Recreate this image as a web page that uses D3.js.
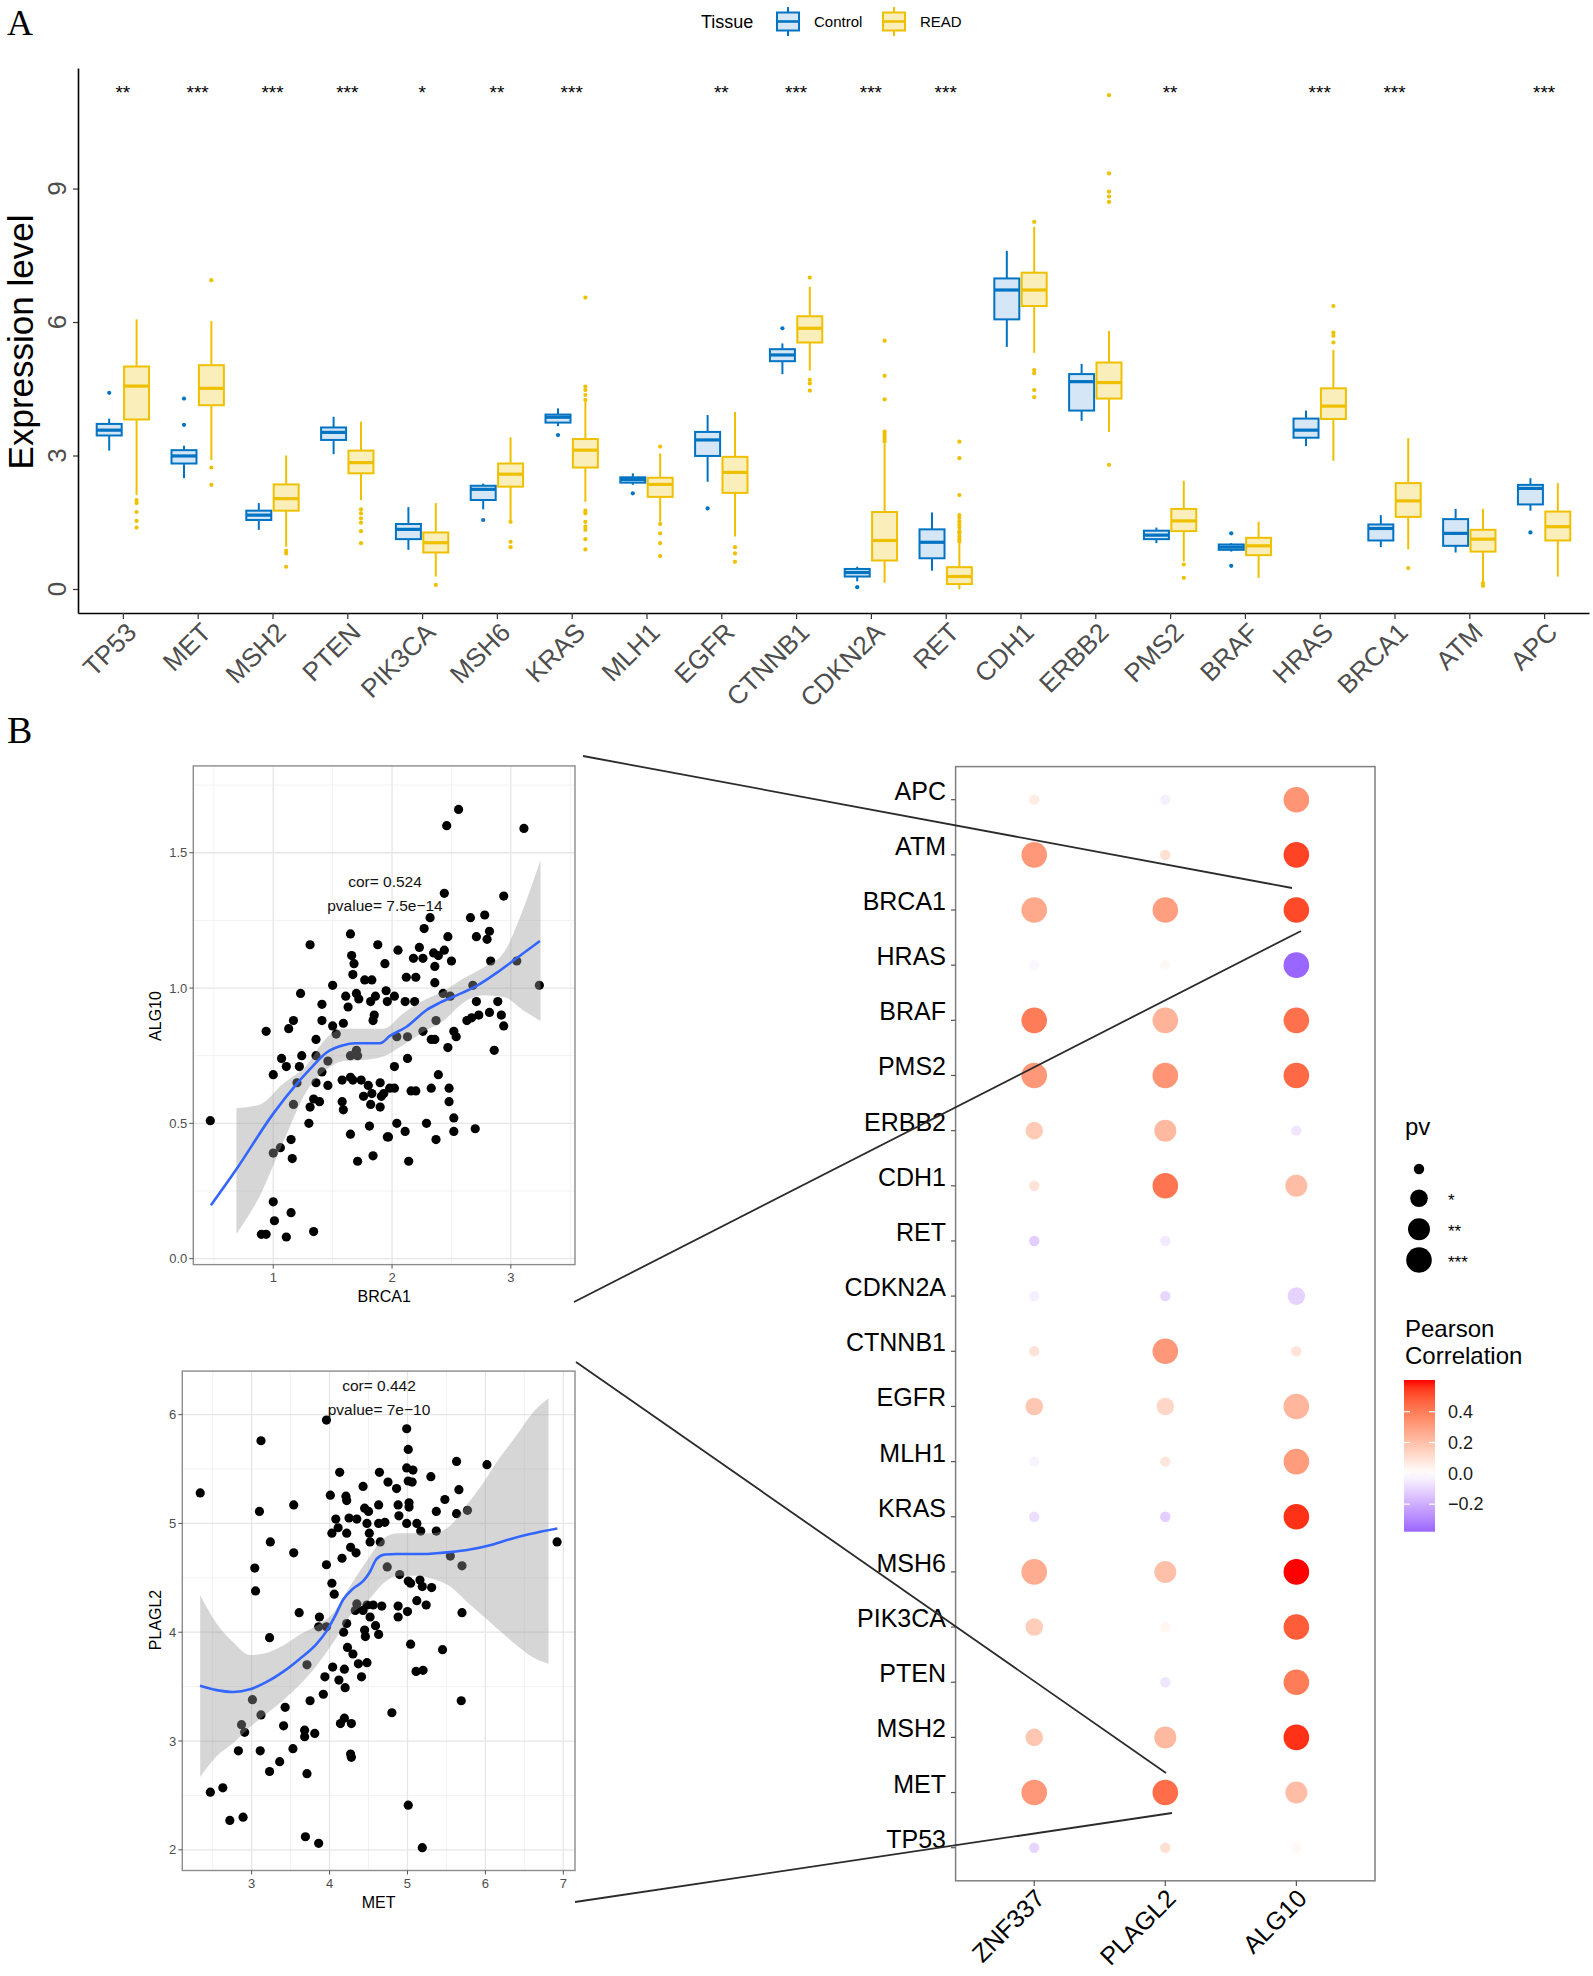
<!DOCTYPE html>
<html><head><meta charset="utf-8">
<script src="https://cdn.jsdelivr.net/npm/d3@7"></script>
<style>body{margin:0;background:#fff} svg{display:block;font-family:"Liberation Sans",Arial,sans-serif}</style>
</head><body>
<svg id="c" width="1593" height="1976"></svg>
<script>
// ---------------- DATA ----------------
const genes = ["TP53","MET","MSH2","PTEN","PIK3CA","MSH6","KRAS","MLH1","EGFR","CTNNB1","CDKN2A","RET","CDH1","ERBB2","PMS2","BRAF","HRAS","BRCA1","ATM","APC"];
const groups = ["Control","READ"];
// [lower whisker, Q1, median, Q3, upper whisker]
const controlStats = [[3.11,3.45,3.57,3.71,3.83],[2.49,2.82,2.99,3.12,3.22],[1.33,1.55,1.66,1.76,1.93],[3.03,3.35,3.52,3.63,3.87],[0.88,1.12,1.34,1.46,1.84],[1.79,2.0,2.24,2.32,2.37],[3.66,3.74,3.86,3.92,4.06],[2.34,2.39,2.46,2.51,2.6],[2.41,2.99,3.35,3.53,3.91],[4.83,5.12,5.26,5.39,5.52],[0.17,0.28,0.37,0.45,0.50],[0.41,0.69,1.05,1.34,1.72],[5.44,6.06,6.72,6.98,7.60],[3.78,4.01,4.66,4.83,5.06],[1.03,1.12,1.21,1.31,1.38],[0.84,0.88,0.94,1.0,1.03],[3.21,3.40,3.57,3.83,4.01],[0.94,1.09,1.36,1.45,1.66],[0.82,0.97,1.25,1.57,1.80],[1.76,1.90,2.26,2.34,2.49]];
const readStats = [[2.11,3.81,4.56,5.0,6.06],[2.9,4.13,4.51,5.03,6.02],[0.95,1.76,2.03,2.35,3.0],[2.0,2.6,2.84,3.11,3.76],[0.28,0.82,1.04,1.27,1.93],[1.55,2.3,2.58,2.82,3.41],[1.96,2.73,3.12,3.37,4.21],[1.51,2.07,2.35,2.5,3.05],[1.18,2.16,2.62,2.97,3.98],[4.91,5.54,5.86,6.13,6.79],[0.14,0.64,1.09,1.73,3.26],[-0.01,0.11,0.28,0.49,1.02],[5.31,6.36,6.72,7.11,8.14],[3.53,4.28,4.64,5.09,5.80],[0.62,1.30,1.53,1.80,2.43],[0.25,0.76,0.97,1.15,1.51],[2.88,3.82,4.11,4.51,5.37],[0.89,1.62,1.98,2.38,3.39],[0.16,0.84,1.12,1.33,1.80],[0.28,1.09,1.40,1.74,2.38]];
const controlOutliers = [[4.41],[4.28,3.69],[],[],[],[1.55],[3.46],[2.15],[1.81],[5.86],[0.04],[],[],[],[],[1.25,0.52],[],[],[],[1.27]];
const readOutliers = [[2.0,1.93,1.73,1.53,1.38],[2.73,2.34,6.94],[0.86,0.80,0.5],[1.79,1.70,1.59,1.49,1.30,1.03],[0.09],[1.51,1.06,0.94],[4.25,4.36,4.47,4.55,6.55,1.76,1.70,1.51,1.40,1.33,1.12,0.89],[3.2,1.46,1.25,1.03,0.74],[0.94,0.80,0.61],[7.0,4.70,4.62,4.46],[3.31,3.37,3.43,3.49,3.54,4.26,4.79,5.58],[1.06,1.12,1.18,1.25,1.30,1.38,1.45,1.52,1.60,1.66,2.11,2.94,3.31],[8.25,4.92,4.85,4.47,4.31],[2.79,8.70,8.82,8.93,9.34,11.10],[0.55,0.25],[],[5.54,5.69,5.76,6.36],[0.47],[0.13,0.07],[]];
const sigLabels = ["**","***","***","***","*","**","***","","**","***","***","***","","","**","","***","***","","***"];
const yTicksA = [0,3,6,9];

// correlation dot plot (gene order as in `genes`)
const hubGenes = ["ZNF337","PLAGL2","ALG10"];
const corZNF337 = [-0.10,0.32,0.18,0.00,0.16,0.26,-0.08,-0.03,0.18,0.09,-0.04,-0.12,0.09,0.17,0.32,0.40,-0.02,0.27,0.32,0.06];
const corPLAGL2 = [0.10,0.44,0.22,-0.06,0.03,0.20,-0.12,0.08,0.13,0.32,-0.10,-0.05,0.42,0.22,0.33,0.24,0.02,0.30,0.10,-0.04];
const corALG10  = [0.02,0.21,0.56,0.40,0.48,0.60,0.56,0.31,0.23,0.09,-0.11,0.00,0.21,-0.06,0.45,0.43,-0.38,0.52,0.53,0.33];
const pvZNF337 = [0,3,1,0,1,3,0,0,1,0,0,0,0,1,3,3,0,3,3,0];
const pvPLAGL2 = [0,3,2,0,0,2,0,0,1,3,0,0,3,2,3,3,0,3,0,0];
const pvALG10  = [0,2,3,3,3,3,3,3,3,0,1,0,2,0,3,3,3,3,3,3];
const pvLevels = ["", "*", "**", "***"];
const colorTicks = [0.4,0.2,0.0,-0.2];

// scatter 1: BRCA1 vs ALG10
const brca1Alg10 = [[0.47,0.51],[0.94,0.84],[1.00,0.68],[1.07,0.74],[1.11,0.71],[1.13,0.85],[1.17,0.88],[1.23,0.98],[1.24,0.75],[1.22,0.71],[1.20,0.65],[1.17,0.57],[1.31,1.16],[1.36,0.81],[1.36,0.75],[1.36,0.65],[1.41,0.94],[1.41,0.88],[1.41,0.69],[1.46,0.64],[1.50,1.01],[1.50,0.86],[1.53,0.83],[1.59,0.87],[1.61,0.97],[1.63,0.93],[1.65,1.20],[1.66,1.12],[1.68,1.09],[1.67,1.05],[1.70,0.98],[1.72,0.96],[1.71,0.75],[1.65,0.75],[1.77,1.03],[1.83,1.03],[1.82,0.95],[1.84,0.88],[1.85,0.90],[1.88,1.16],[1.86,0.97],[1.94,1.09],[1.95,0.99],[1.96,0.95],[2.02,0.97],[2.05,1.14],[2.11,0.95],[2.12,1.04],[2.18,1.11],[2.20,1.04],[2.23,1.15],[2.19,0.95],[2.27,1.22],[2.32,1.26],[2.35,1.13],[2.36,1.08],[2.36,1.02],[2.39,1.12],[2.44,1.14],[2.47,1.19],[2.50,1.10],[2.56,1.66],[2.46,1.60],[2.44,1.35],[3.11,1.59],[2.94,1.34],[2.66,1.26],[2.78,1.27],[2.71,1.19],[2.82,1.21],[2.80,1.18],[2.83,1.10],[3.24,1.01],[2.68,1.01],[2.71,0.95],[2.49,0.97],[2.43,0.98],[2.52,0.84],[2.54,0.82],[2.37,0.88],[2.63,0.88],[2.67,0.89],[2.89,0.95],[2.92,0.90],[2.94,0.86],[2.82,0.91],[2.86,0.77],[2.47,0.78],[2.39,0.68],[2.33,0.81],[2.36,0.81],[2.26,0.84],[2.13,0.82],[2.13,0.74],[2.04,0.82],[2.02,0.71],[2.02,0.63],[1.98,0.63],[1.93,0.61],[1.91,0.60],[1.90,0.56],[1.83,0.61],[1.82,0.57],[1.81,0.49],[1.76,0.60],[1.74,0.66],[1.67,0.66],[1.65,0.67],[1.58,0.58],[1.59,0.55],[1.58,0.66],[1.65,0.46],[1.71,0.36],[1.84,0.38],[1.96,0.45],[1.97,0.45],[2.04,0.50],[2.11,0.47],[2.14,0.36],[2.16,0.62],[2.20,0.62],[2.33,0.63],[2.29,0.50],[2.37,0.44],[2.48,0.63],[2.48,0.58],[2.52,0.52],[2.52,0.47],[2.70,0.48],[1.00,0.21],[1.01,0.14],[0.90,0.09],[0.94,0.09],[1.11,0.08],[1.15,0.17],[1.34,0.10],[1.00,0.39],[1.06,0.41],[1.15,0.44],[1.16,0.37],[1.30,0.50],[1.31,0.56],[1.34,0.59],[1.39,0.58],[1.46,0.73],[1.80,0.64],[1.90,0.65],[1.70,0.77],[3.05,1.10],[2.73,0.90],[2.26,1.11]];
const fit1 = [[0.475,0.197],[0.691,0.331],[1.0,0.536],[1.196,0.645],[1.309,0.700],[1.449,0.762],[1.589,0.789],[1.687,0.796],[1.898,0.796],[1.982,0.823],[2.122,0.857],[2.291,0.919],[2.403,0.946],[2.543,0.973],[2.712,1.008],[2.880,1.056],[3.048,1.110],[3.245,1.174]];
const band1X = [0.69,0.89,1.08,1.28,1.45,1.59,1.76,1.93,2.09,2.26,2.43,2.60,2.77,2.94,3.10,3.25];
const band1Lo = [0.092,0.235,0.427,0.618,0.700,0.730,0.734,0.748,0.789,0.837,0.878,0.946,0.973,0.967,0.919,0.878];
const band1Hi = [0.556,0.570,0.645,0.714,0.816,0.850,0.850,0.850,0.905,0.953,0.987,1.035,1.076,1.131,1.288,1.473];

// scatter 2: MET vs PLAGL2
const metPlagl2 = [[2.34,5.28],[3.12,5.76],[3.10,5.11],[3.24,4.83],[3.04,4.59],[3.05,4.38],[3.23,3.95],[3.54,5.17],[3.54,4.73],[3.61,4.18],[3.96,5.95],[4.13,5.47],[4.01,5.26],[3.96,4.62],[4.03,4.45],[4.08,5.04],[4.03,4.91],[4.11,4.96],[4.06,4.35],[3.87,4.14],[3.86,4.05],[3.96,4.05],[4.16,4.68],[4.21,5.25],[4.22,5.21],[4.22,4.91],[4.25,5.05],[4.27,4.78],[4.34,4.73],[4.35,5.04],[4.43,5.34],[4.45,5.14],[4.50,5.11],[4.48,5.00],[4.51,4.91],[4.52,4.83],[4.63,5.17],[4.64,5.47],[4.75,5.38],[4.86,5.32],[4.89,5.07],[4.88,5.17],[4.71,5.01],[4.63,5.00],[4.65,4.83],[4.99,5.87],[5.01,5.68],[4.99,5.51],[5.07,5.49],[5.01,5.39],[5.06,5.38],[5.02,5.19],[5.02,5.15],[4.99,5.00],[5.12,5.00],[5.17,4.93],[5.30,5.43],[5.48,5.22],[5.37,5.11],[5.37,4.93],[5.63,5.57],[5.66,5.31],[5.63,5.09],[5.77,5.12],[6.02,5.54],[6.92,4.83],[5.70,4.61],[5.70,4.18],[5.69,3.37],[5.45,3.84],[5.31,4.41],[5.24,4.25],[5.19,4.42],[5.16,4.48],[5.12,4.29],[5.01,4.47],[5.04,4.45],[5.00,4.19],[4.88,4.24],[4.88,4.14],[4.90,4.53],[5.04,3.89],[5.11,3.64],[5.20,3.65],[4.74,4.60],[4.43,4.20],[4.48,4.25],[4.52,4.14],[4.56,4.25],[4.67,4.24],[4.59,4.06],[4.63,3.98],[4.45,4.02],[4.46,3.96],[4.35,4.26],[4.33,4.20],[4.22,4.08],[4.18,4.00],[4.23,3.86],[4.30,3.80],[4.37,3.71],[4.48,3.72],[4.19,3.66],[4.41,3.59],[4.04,3.68],[4.12,3.56],[3.94,3.59],[4.20,3.49],[3.92,3.43],[3.75,3.37],[3.71,3.70],[3.43,3.31],[3.01,3.38],[2.87,3.15],[2.91,3.08],[3.12,3.24],[3.41,3.14],[3.68,3.10],[3.68,3.04],[3.81,3.07],[4.14,3.16],[4.19,3.21],[4.28,3.16],[4.27,2.88],[4.28,2.85],[4.80,3.26],[3.53,2.93],[3.11,2.91],[2.83,2.91],[3.36,2.81],[3.23,2.72],[3.71,2.70],[2.47,2.53],[2.63,2.57],[2.72,2.27],[2.89,2.30],[3.69,2.12],[3.86,2.06],[5.01,2.41],[5.19,2.02],[5.55,4.70]];
const fit2 = [[2.337,3.509],[2.551,3.468],[2.765,3.451],[2.979,3.475],[3.193,3.543],[3.406,3.638],[3.620,3.757],[3.834,3.893],[3.963,4.012],[4.070,4.148],[4.176,4.301],[4.305,4.403],[4.433,4.471],[4.519,4.556],[4.604,4.675],[4.711,4.715],[4.861,4.719],[5.032,4.719],[5.203,4.719],[5.374,4.726],[5.545,4.736],[5.802,4.760],[6.059,4.800],[6.316,4.855],[6.572,4.902],[6.923,4.953]];
const band2X = [2.34,2.55,2.76,2.98,3.19,3.41,3.62,3.83,4.05,4.26,4.48,4.69,4.88,5.12,5.33,5.55,5.76,5.97,6.19,6.40,6.61,6.81];
const band2Hi = [4.34,4.08,3.91,3.79,3.81,3.88,3.98,4.06,4.18,4.42,4.66,4.86,4.91,4.91,4.91,4.98,5.17,5.37,5.61,5.81,6.02,6.15];
const band2Lo = [2.67,2.86,2.98,3.13,3.25,3.38,3.52,3.69,3.91,4.15,4.28,4.45,4.52,4.52,4.49,4.42,4.28,4.15,4.01,3.88,3.77,3.71];

// ---------------- DRAW ----------------
const svg = d3.select("#c");
const GREY = "#4d4d4d";
const BLUE = "#0073C2", YEL = "#EFC000";
const BLUEF = "#d5e7f6", YELF = "#faeebb";

// Panel labels
svg.append("text").attr("x",7).attr("y",35).attr("font-family","Liberation Serif, serif").attr("font-size",36).text("A");
svg.append("text").attr("x",7).attr("y",743).attr("font-family","Liberation Serif, serif").attr("font-size",38).text("B");

// ----- Panel A -----
const gA = svg.append("g");
const xA = d3.scalePoint().domain(genes).range([78,1589]).padding(0.6);
const yA = d3.scaleLinear().domain([-0.54,11.71]).range([613,68]);
const stepA = xA.step();
const off = stepA*0.183, bw = stepA*0.334;

const axY = gA.append("g").attr("transform","translate(78,0)")
  .call(d3.axisLeft(yA).tickValues(yTicksA).tickSize(5).tickSizeOuter(0));
axY.select(".domain").attr("stroke","#000").attr("stroke-width",1.6);
axY.selectAll(".tick line").attr("stroke","#333").attr("stroke-width",1.2);
axY.selectAll(".tick text").remove();
yTicksA.forEach(v=>{
  gA.append("text").attr("transform",`translate(57,${yA(v)}) rotate(-90)`).attr("dy","0.35em")
    .attr("text-anchor","middle").attr("font-size",26).attr("fill",GREY).text(v);
});
const axX = gA.append("g").attr("transform","translate(0,613)")
  .call(d3.axisBottom(xA).tickSize(6).tickSizeOuter(0));
axX.select(".domain").attr("stroke","#000").attr("stroke-width",1.6);
axX.selectAll(".tick line").attr("stroke","#333").attr("stroke-width",1.2);
axX.selectAll(".tick text").remove();
genes.forEach(g=>{
  gA.append("text").attr("transform",`translate(${xA(g)+15},634) rotate(-45)`)
    .attr("text-anchor","end").attr("font-size",26).attr("fill",GREY).text(g);
});
gA.append("text").attr("transform",`translate(21,342) rotate(-90)`).attr("dy","0.35em")
  .attr("text-anchor","middle").attr("font-size",35).attr("fill","#000").text("Expression level");

function drawBox(cx, st, outs, stroke, fill){
  const g = gA.append("g");
  g.append("line").attr("x1",cx).attr("x2",cx).attr("y1",yA(st[4])).attr("y2",yA(st[3])).attr("stroke",stroke).attr("stroke-width",2);
  g.append("line").attr("x1",cx).attr("x2",cx).attr("y1",yA(st[1])).attr("y2",yA(st[0])).attr("stroke",stroke).attr("stroke-width",2);
  g.append("rect").attr("x",cx-bw/2).attr("width",bw).attr("y",yA(st[3])).attr("height",Math.max(1,yA(st[1])-yA(st[3])))
    .attr("fill",fill).attr("stroke",stroke).attr("stroke-width",2);
  g.append("line").attr("x1",cx-bw/2).attr("x2",cx+bw/2).attr("y1",yA(st[2])).attr("y2",yA(st[2])).attr("stroke",stroke).attr("stroke-width",3.2);
  outs.forEach(o=>g.append("circle").attr("cx",cx).attr("cy",yA(o)).attr("r",2.1).attr("fill",stroke));
}
genes.forEach((g,i)=>{
  drawBox(xA(g)-off, controlStats[i], controlOutliers[i], BLUE, BLUEF);
  drawBox(xA(g)+off, readStats[i], readOutliers[i], YEL, YELF);
  if(sigLabels[i]) gA.append("text").attr("x",xA(g)).attr("y",99).attr("text-anchor","middle").attr("font-size",19).attr("fill","#000").text(sigLabels[i]);
});
// legend
gA.append("text").attr("x",701).attr("y",28).attr("font-size",18).attr("fill","#000").text("Tissue");
function legKey(x, stroke, fill){
  gA.append("line").attr("x1",x+12).attr("x2",x+12).attr("y1",7).attr("y2",36).attr("stroke",stroke).attr("stroke-width",2);
  gA.append("rect").attr("x",x+1).attr("y",12.5).attr("width",22).attr("height",18).attr("fill",fill).attr("stroke",stroke).attr("stroke-width",2);
  gA.append("line").attr("x1",x+1).attr("x2",x+23).attr("y1",21.5).attr("y2",21.5).attr("stroke",stroke).attr("stroke-width",2.6);
}
legKey(776, BLUE, BLUEF);
gA.append("text").attr("x",814).attr("y",27).attr("font-size",15).attr("fill","#000").text(groups[0]);
legKey(882, YEL, YELF);
gA.append("text").attr("x",920).attr("y",27).attr("font-size",15).attr("fill","#000").text(groups[1]);

// ----- Scatter plots -----
function scatter(cfg){
  const g = svg.append("g");
  const x = d3.scaleLinear().domain(cfg.xd).range([cfg.x0,cfg.x1]);
  const y = d3.scaleLinear().domain(cfg.yd).range([cfg.y1,cfg.y0]);
  cfg.xMinor.forEach(v=>g.append("line").attr("x1",x(v)).attr("x2",x(v)).attr("y1",cfg.y0).attr("y2",cfg.y1).attr("stroke","#f2f2f2").attr("stroke-width",1));
  cfg.yMinor.forEach(v=>g.append("line").attr("y1",y(v)).attr("y2",y(v)).attr("x1",cfg.x0).attr("x2",cfg.x1).attr("stroke","#f2f2f2").attr("stroke-width",1));
  cfg.xMajor.forEach(v=>g.append("line").attr("x1",x(v)).attr("x2",x(v)).attr("y1",cfg.y0).attr("y2",cfg.y1).attr("stroke","#e6e6e6").attr("stroke-width",1.3));
  cfg.yMajor.forEach(v=>g.append("line").attr("y1",y(v)).attr("y2",y(v)).attr("x1",cfg.x0).attr("x2",cfg.x1).attr("stroke","#e6e6e6").attr("stroke-width",1.3));
  g.selectAll("circle.p").data(cfg.pts).join("circle").attr("cx",d=>x(d[0])).attr("cy",d=>y(d[1])).attr("r",4.6).attr("fill","#000");
  const band = cfg.bx.map((v,i)=>[v,cfg.blo[i],cfg.bhi[i]]);
  g.append("path").datum(band).attr("d",d3.area().x(d=>x(d[0])).y0(d=>y(d[1])).y1(d=>y(d[2])).curve(d3.curveMonotoneX))
    .attr("fill","#999999").attr("fill-opacity",0.4);
  g.append("path").datum(cfg.fit).attr("d",d3.line().x(d=>x(d[0])).y(d=>y(d[1])).curve(d3.curveMonotoneX))
    .attr("fill","none").attr("stroke","#3366FF").attr("stroke-width",2.6);
  g.append("rect").attr("x",cfg.x0).attr("y",cfg.y0).attr("width",cfg.x1-cfg.x0).attr("height",cfg.y1-cfg.y0).attr("fill","none").attr("stroke","#8c8c8c").attr("stroke-width",1.4);
  cfg.xMajor.forEach(v=>{
    g.append("line").attr("x1",x(v)).attr("x2",x(v)).attr("y1",cfg.y1).attr("y2",cfg.y1+4).attr("stroke","#555");
    g.append("text").attr("x",x(v)).attr("y",cfg.y1+17).attr("text-anchor","middle").attr("font-size",13).attr("fill",GREY).text(cfg.xfmt(v));
  });
  cfg.yMajor.forEach(v=>{
    g.append("line").attr("x1",cfg.x0-4).attr("x2",cfg.x0).attr("y1",y(v)).attr("y2",y(v)).attr("stroke","#555");
    g.append("text").attr("x",cfg.x0-6).attr("y",y(v)).attr("dy","0.35em").attr("text-anchor","end").attr("font-size",13).attr("fill",GREY).text(cfg.yfmt(v));
  });
  g.append("text").attr("x",(cfg.x0+cfg.x1)/2).attr("y",cfg.xtY).attr("text-anchor","middle").attr("font-size",16).attr("fill","#000").text(cfg.xlab);
  g.append("text").attr("transform",`translate(155,${cfg.ytY}) rotate(-90)`).attr("dy","0.35em").attr("text-anchor","middle").attr("font-size",16).attr("fill","#000").text(cfg.ylab);
  g.append("text").attr("x",cfg.annX).attr("y",cfg.annY).attr("text-anchor","middle").attr("font-size",15.5).attr("fill","#111").text(cfg.t1);
  g.append("text").attr("x",cfg.annX).attr("y",cfg.annY+24).attr("text-anchor","middle").attr("font-size",15.5).attr("fill","#111").text(cfg.t2);
}
scatter({xd:[0.327,3.54], yd:[-0.022,1.821], x0:193.3, x1:575, y0:765.9, y1:1264.6,
  xMajor:[1,2,3], xMinor:[0.5,1.5,2.5,3.5], yMajor:[0,0.5,1.0,1.5], yMinor:[0.25,0.75,1.25,1.75],
  xfmt:d3.format("d"), yfmt:d3.format(".1f"),
  pts:brca1Alg10, fit:fit1, bx:band1X, blo:band1Lo, bhi:band1Hi,
  xlab:"BRCA1", ylab:"ALG10", xtY:1302, ytY:1016, annX:385, annY:887, t1:"cor= 0.524", t2:"pvalue= 7.5e\u221214"});
scatter({xd:[2.11,7.15], yd:[1.81,6.40], x0:182.3, x1:575, y0:1371.1, y1:1870.5,
  xMajor:[3,4,5,6,7], xMinor:[2.5,3.5,4.5,5.5,6.5], yMajor:[2,3,4,5,6], yMinor:[2.5,3.5,4.5,5.5],
  xfmt:d3.format("d"), yfmt:d3.format("d"),
  pts:metPlagl2, fit:fit2, bx:band2X, blo:band2Lo, bhi:band2Hi,
  xlab:"MET", ylab:"PLAGL2", xtY:1908, ytY:1620, annX:379, annY:1391, t1:"cor= 0.442", t2:"pvalue= 7e\u221210"});

// ----- Dot plot -----
const gD = svg.append("g");
const rows = genes.slice().reverse();
const xD = d3.scalePoint().domain(hubGenes).range([955.6,1375]).padding(0.6);
const yD = d3.scalePoint().domain(rows).range([766.6,1880.8]).padding(0.6);
const col = d3.scaleLinear().domain([-0.38,0,0.6]).range(["#9966ff","#ffffff","#ff0000"]).interpolate(d3.interpolateLab);
const rad = d3.scaleOrdinal().domain([0,1,2,3]).range([5.2,8.8,11,12.8]);
gD.append("rect").attr("x",955.6).attr("y",766.6).attr("width",1375-955.6).attr("height",1880.8-766.6)
  .attr("fill","none").attr("stroke","#7f7f7f").attr("stroke-width",1.5);
const corCols = [corZNF337,corPLAGL2,corALG10], pvCols = [pvZNF337,pvPLAGL2,pvALG10];
hubGenes.forEach((h,j)=>{
  genes.forEach((g,i)=>{
    gD.append("circle").attr("cx",xD(h)).attr("cy",yD(g)).attr("r",rad(pvCols[j][i])).attr("fill",col(corCols[j][i]));
  });
  gD.append("line").attr("x1",xD(h)).attr("x2",xD(h)).attr("y1",1880.8).attr("y2",1886).attr("stroke","#555").attr("stroke-width",1.2);
  gD.append("text").attr("transform",`translate(${xD(h)+12},1900) rotate(-45)`).attr("text-anchor","end").attr("font-size",25).attr("fill","#000").text(h);
});
rows.forEach(g=>{
  gD.append("line").attr("x1",951).attr("x2",955.6).attr("y1",yD(g)).attr("y2",yD(g)).attr("stroke","#555").attr("stroke-width",1.2);
  gD.append("text").attr("x",946).attr("y",yD(g)).attr("text-anchor","end").attr("font-size",25).attr("fill","#000").text(g);
});
gD.append("text").attr("x",1405).attr("y",1135).attr("font-size",24).attr("fill","#000").text("pv");
const legY = [1169,1198.3,1229.3,1260];
pvLevels.forEach((l,k)=>{
  gD.append("circle").attr("cx",1419).attr("cy",legY[k]).attr("r",rad(k)).attr("fill","#000");
  if(l) gD.append("text").attr("x",1448).attr("y",legY[k]+8).attr("font-size",17).attr("fill","#000").text(l);
});
gD.append("text").attr("x",1405).attr("y",1337).attr("font-size",24).attr("fill","#000").text("Pearson");
gD.append("text").attr("x",1405).attr("y",1364).attr("font-size",24).attr("fill","#000").text("Correlation");
const yC = d3.scaleLinear().domain([-0.379,0.606]).range([1531.7,1380]);
const defs = svg.append("defs");
const grad = defs.append("linearGradient").attr("id","cg").attr("x1",0).attr("x2",0).attr("y1",1).attr("y2",0);
d3.range(0,21).forEach(k=>{
  const v = -0.379 + k/20*(0.606+0.379);
  grad.append("stop").attr("offset",(k/20*100)+"%").attr("stop-color",col(Math.max(-0.38,Math.min(0.6,v))));
});
gD.append("rect").attr("x",1404).attr("y",1380).attr("width",31).attr("height",1531.7-1380).attr("fill","url(#cg)");
colorTicks.forEach(v=>{
  gD.append("line").attr("x1",1404).attr("x2",1410).attr("y1",yC(v)).attr("y2",yC(v)).attr("stroke","#fff").attr("stroke-width",1.2);
  gD.append("line").attr("x1",1429).attr("x2",1435).attr("y1",yC(v)).attr("y2",yC(v)).attr("stroke","#fff").attr("stroke-width",1.2);
  gD.append("text").attr("x",1448).attr("y",yC(v)).attr("dy","0.35em").attr("font-size",18).attr("fill","#1a1a1a").text(v===0?"0.0":d3.format(".1f")(v).replace("-","\u2212"));
});

// ----- Connector lines -----
const conn = [[[583,756],[1292,888]],[[574,1302],[1301,931]],[[576,1362],[1166,1773]],[[575,1902],[1172,1813]]];
conn.forEach(c=>svg.append("line").attr("x1",c[0][0]).attr("y1",c[0][1]).attr("x2",c[1][0]).attr("y2",c[1][1]).attr("stroke","#2b2b2b").attr("stroke-width",1.8));
</script>
</body></html>
